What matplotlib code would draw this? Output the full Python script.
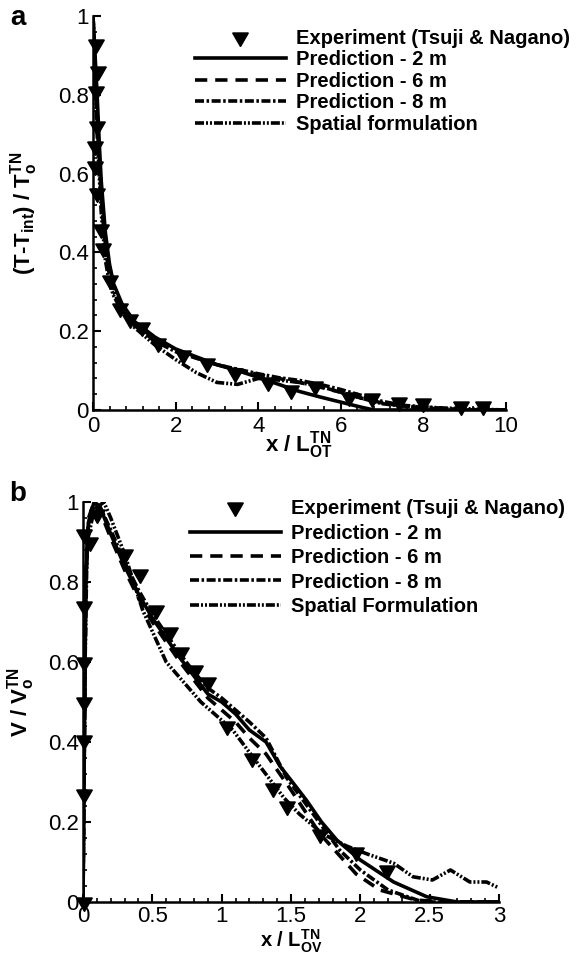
import matplotlib
matplotlib.use("Agg")
import matplotlib.pyplot as plt
from matplotlib.ticker import MultipleLocator, FixedLocator, FixedFormatter

plt.rcParams['font.family'] = ['Liberation Sans', 'DejaVu Sans']
plt.rcParams['mathtext.fontset'] = 'custom'
plt.rcParams['mathtext.rm'] = 'Liberation Sans:bold'
plt.rcParams['mathtext.it'] = 'Liberation Sans:bold'
plt.rcParams['mathtext.bf'] = 'Liberation Sans:bold'

# ---- (a) temperature decay ----
a_exp_x = [0.07, 0.12, 0.07, 0.10, 0.04, 0.06, 0.10, 0.19, 0.24, 0.41, 0.65, 0.90, 1.18,
           1.57, 2.18, 2.75, 3.44, 4.24, 4.80, 5.37, 6.20, 6.75, 7.40, 8.00, 8.90, 9.45]
a_exp_y = [0.93, 0.86, 0.81, 0.72, 0.67, 0.62, 0.55, 0.46, 0.41, 0.33, 0.26, 0.23, 0.21,
           0.17, 0.14, 0.12, 0.094, 0.072, 0.05, 0.06, 0.034, 0.03, 0.02, 0.017, 0.01, 0.01]

a_2m_x = [0, 0.05, 0.1, 0.15, 0.2, 0.3, 0.4, 0.5, 0.7, 1.0, 1.5, 2.0, 2.5, 3.0, 3.5, 4.0,
          4.5, 5.0, 5.5, 6.0, 6.5, 6.8, 7.5, 10]
a_2m_y = [1.0, 0.9, 0.8, 0.68, 0.58, 0.45, 0.37, 0.32, 0.27, 0.225, 0.185, 0.155, 0.135,
          0.115, 0.1, 0.083, 0.065, 0.047, 0.033, 0.02, 0.007, 0.0, 0.0, 0.0]

a_6m_x = [0, 0.05, 0.1, 0.15, 0.2, 0.3, 0.4, 0.5, 0.7, 1.0, 1.5, 2.0, 3.0, 4.0, 4.5, 5.0,
          5.5, 6.0, 6.5, 7.0, 7.5, 8.0, 9.0, 10]
a_6m_y = [1.0, 0.88, 0.76, 0.64, 0.55, 0.42, 0.35, 0.31, 0.26, 0.22, 0.18, 0.15, 0.115,
          0.09, 0.08, 0.07, 0.058, 0.045, 0.03, 0.018, 0.01, 0.005, 0.0, 0.0]

a_8m_x = [0, 0.05, 0.1, 0.15, 0.2, 0.3, 0.4, 0.5, 0.7, 1.0, 1.5, 2.0, 3.0, 4.0, 4.5, 5.0,
          5.5, 6.0, 6.5, 7.0, 7.5, 8.0, 8.5, 9.0, 10]
a_8m_y = [1.0, 0.87, 0.75, 0.63, 0.54, 0.41, 0.34, 0.30, 0.255, 0.215, 0.175, 0.148, 0.115,
          0.092, 0.082, 0.075, 0.065, 0.052, 0.037, 0.022, 0.012, 0.008, 0.004, 0.0, 0.0]

a_sp_x = [0, 0.05, 0.1, 0.15, 0.2, 0.3, 0.4, 0.5, 0.7, 1.0, 1.5, 2.0, 2.5, 3.0, 3.5, 4.0,
          4.5, 5.0, 5.5, 6.0, 6.5, 7.0, 7.5, 8.5, 10]
a_sp_y = [1.0, 0.85, 0.7, 0.6, 0.5, 0.38, 0.32, 0.29, 0.25, 0.21, 0.165, 0.128, 0.095,
          0.07, 0.065, 0.08, 0.076, 0.07, 0.06, 0.045, 0.03, 0.016, 0.01, 0.005, 0.0]

# ---- (b) velocity decay ----
b_exp_x = [0.005, 0.005, 0.005, 0.005, 0.005, 0.005, 0.01, 0.05, 0.10, 0.30, 0.41, 0.53,
           0.63, 0.71, 0.81, 0.90, 1.04, 1.22, 1.37, 1.47, 1.71, 1.97, 2.19]
b_exp_y = [0.0, 0.27, 0.405, 0.5, 0.6, 0.74, 0.92, 0.9, 0.97, 0.87, 0.82, 0.73, 0.675,
           0.625, 0.58, 0.55, 0.44, 0.36, 0.285, 0.24, 0.17, 0.125, 0.08]

b_2m_x = [0, 0.01, 0.02, 0.04, 0.08, 0.12, 0.2, 0.3, 0.4, 0.5, 0.6, 0.7, 0.8, 0.9, 1.0,
          1.1, 1.2, 1.32, 1.42, 1.51, 1.61, 1.72, 1.83, 2.0, 2.24, 2.48, 2.7, 3.0]
b_2m_y = [0.0, 0.4, 0.8, 0.95, 1.0, 0.99, 0.92, 0.84, 0.77, 0.71, 0.66, 0.61, 0.565, 0.52,
          0.5, 0.47, 0.43, 0.4, 0.34, 0.3, 0.255, 0.2, 0.155, 0.105, 0.05, 0.013, 0.0, 0.0]

b_6m_x = [0, 0.01, 0.02, 0.04, 0.08, 0.12, 0.2, 0.3, 0.4, 0.5, 0.6, 0.7, 0.8, 0.9, 1.0,
          1.1, 1.2, 1.32, 1.42, 1.5, 1.71, 1.97, 2.14, 2.4, 2.6, 3.0]
b_6m_y = [0.0, 0.42, 0.82, 0.96, 1.0, 0.98, 0.91, 0.83, 0.76, 0.7, 0.65, 0.6, 0.555, 0.51,
          0.48, 0.45, 0.41, 0.37, 0.32, 0.28, 0.17, 0.07, 0.03, 0.005, 0.0, 0.0]

b_8m_x = [0, 0.01, 0.02, 0.04, 0.08, 0.12, 0.2, 0.3, 0.4, 0.5, 0.6, 0.7, 0.8, 0.9, 1.0,
          1.1, 1.2, 1.32, 1.47, 1.66, 1.85, 2.0, 2.2, 2.45, 3.0]
b_8m_y = [0.0, 0.4, 0.8, 0.95, 0.99, 0.99, 0.93, 0.85, 0.78, 0.72, 0.67, 0.62, 0.575, 0.535,
          0.51, 0.48, 0.45, 0.41, 0.31, 0.22, 0.13, 0.08, 0.03, 0.0, 0.0]

b_sp_x = [0, 0.01, 0.03, 0.08, 0.15, 0.2, 0.3, 0.43, 0.6, 0.85, 1.08, 1.23, 1.45, 1.56,
          1.73, 1.9, 2.05, 2.24, 2.38, 2.52, 2.65, 2.79, 2.91, 3.0]
b_sp_y = [0.0, 0.5, 0.9, 0.98, 1.0, 0.96, 0.87, 0.73, 0.6, 0.5, 0.43, 0.36, 0.26, 0.22,
          0.17, 0.14, 0.12, 0.097, 0.063, 0.055, 0.08, 0.05, 0.05, 0.035]

labels_a = ['Experiment (Tsuji & Nagano)', 'Prediction - 2 m', 'Prediction - 6 m',
            'Prediction - 8 m', 'Spatial formulation']
labels_b = ['Experiment (Tsuji & Nagano)', 'Prediction - 2 m', 'Prediction - 6 m',
            'Prediction - 8 m', 'Spatial Formulation']

LW = 2.6
DASHED = (3.4, 2.2)
DASHDOT = (2.5, 0.7, 0.7, 0.7)
DASHDOTDOT = (2.5, 0.55, 0.55, 0.55, 0.55, 0.55)
TRI = (3, 0, 180)

W, H = 579, 956
fig = plt.figure(figsize=(W / 100, H / 100), dpi=100)


def rect(x0, y0, x1, y1):
    return [x0 / W, 1 - y1 / H, (x1 - x0) / W, (y1 - y0) / H]


def style_axes(ax, xmax, xmajor, xminor, xticklabels, xpad):
    ax.set_xlim(0, xmax)
    ax.set_ylim(0, 1)
    for s in ['top', 'right']:
        ax.spines[s].set_visible(False)
    for s in ['left', 'bottom']:
        ax.spines[s].set_linewidth(1.8)
    ax.xaxis.set_major_locator(FixedLocator(xmajor))
    ax.xaxis.set_major_formatter(FixedFormatter(xticklabels))
    ax.xaxis.set_minor_locator(MultipleLocator(xminor))
    yt = [0, 0.2, 0.4, 0.6, 0.8, 1.0]
    ax.yaxis.set_major_locator(FixedLocator(yt))
    ax.yaxis.set_major_formatter(FixedFormatter(['0', '0.2', '0.4', '0.6', '0.8', '1']))
    ax.yaxis.set_minor_locator(MultipleLocator(0.04))
    ax.tick_params(which='both', direction='in', top=False, right=False, labelsize=16)
    ax.tick_params(which='major', length=6, width=1.5)
    ax.tick_params(which='minor', length=3.2, width=1.2)
    ax.tick_params(axis='x', pad=xpad)
    ax.tick_params(axis='y', pad=3)


def draw(ax, ex, ey, l2, l6, l8, lsp, labels):
    ax.plot(ex, ey, linestyle='none', marker=TRI, ms=13, color='k', clip_on=False,
            zorder=5, label=labels[0])
    ax.plot(*l2, color='k', lw=LW, label=labels[1])
    ax.plot(*l6, color='k', lw=LW, dashes=DASHED, label=labels[2])
    ax.plot(*l8, color='k', lw=LW, dashes=DASHDOT, label=labels[3])
    ax.plot(*lsp, color='k', lw=LW, dashes=DASHDOTDOT, label=labels[4])


leg_kw = dict(loc='upper left', frameon=False, borderpad=0, borderaxespad=0,
              handlelength=4.5, handletextpad=0.5, numpoints=1,
              prop={'size': 14.5, 'weight': 'bold'})

# panel a
ax1 = fig.add_axes(rect(93, 16, 506, 410))
draw(ax1, a_exp_x, a_exp_y, (a_2m_x, a_2m_y), (a_6m_x, a_6m_y), (a_8m_x, a_8m_y),
     (a_sp_x, a_sp_y), labels_a)
style_axes(ax1, 10, [0, 2, 4, 6, 8, 10], 0.4, ['0', '2', '4', '6', '8', '10'], 4.5)
ax1.set_xlabel(r'x / $\mathrm{L_{OT}^{TN}}$', fontsize=16, fontweight='bold')
ax1.xaxis.set_label_coords(0.5, -0.048)
ax1.set_ylabel(r'(T-T$\mathrm{_{int}}$) / T$\mathrm{_o^{TN}}$', fontsize=16, fontweight='bold')
ax1.yaxis.set_label_coords(-0.128, 0.5)
ax1.legend(bbox_to_anchor=(0.247, 0.968), labelspacing=0.13, **leg_kw)
fig.text(18 / W, 1 - 18 / H, 'a', fontsize=20, fontweight='bold', ha='center', va='center')

# panel b
ax2 = fig.add_axes(rect(83, 502, 499, 902))
draw(ax2, b_exp_x, b_exp_y, (b_2m_x, b_2m_y), (b_6m_x, b_6m_y), (b_8m_x, b_8m_y),
     (b_sp_x, b_sp_y), labels_b)
style_axes(ax2, 3, [0, 0.5, 1, 1.5, 2, 2.5, 3], 0.1,
           ['0', '0.5', '1', '1.5', '2', '2.5', '3'], 3)
ax2.set_xlabel(r'x / $\mathrm{L_{OV}^{TN}}$', fontsize=14.5, fontweight='bold')
ax2.xaxis.set_label_coords(0.5, -0.064)
ax2.set_ylabel(r'V / V$\mathrm{_o^{TN}}$', fontsize=16, fontweight='bold')
ax2.yaxis.set_label_coords(-0.11, 0.5)
ax2.legend(bbox_to_anchor=(0.257, 1.007), labelspacing=0.27, **leg_kw)
fig.text(18 / W, 1 - 494 / H, 'b', fontsize=20, fontweight='bold', ha='center', va='center')

fig.savefig('out.png', dpi=100)
